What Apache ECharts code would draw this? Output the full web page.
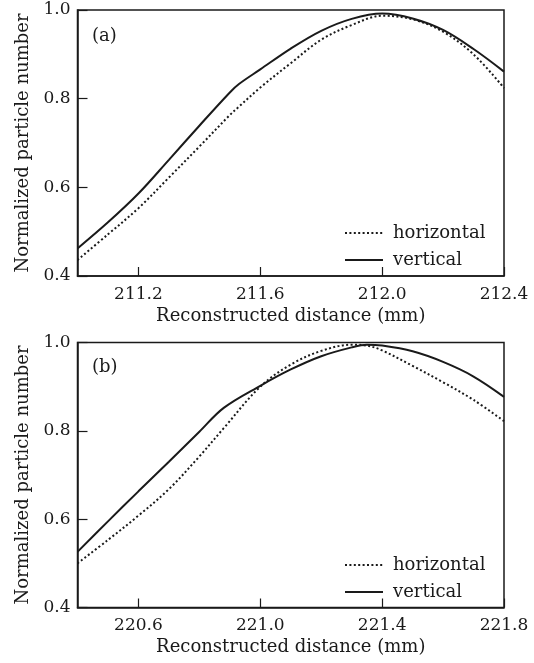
<!DOCTYPE html>
<html>
<head>
<meta charset="utf-8">
<script src="https://cdn.jsdelivr.net/npm/echarts@6/dist/echarts.min.js"></script>
<style>html,body{margin:0;padding:0;background:#fff;}#c{width:534px;height:663px;}</style>
</head>
<body>
<div id="c"></div>
<script>
// Panel (a)
const xA = [211.0, 211.1, 211.2, 211.3, 211.4, 211.5, 211.53, 211.6, 211.7, 211.8, 211.9, 212.0, 212.1, 212.2, 212.3, 212.4];
const horizontalA = [0.436, 0.494, 0.553, 0.622, 0.692, 0.763, 0.782, 0.825, 0.880, 0.933, 0.966, 0.987, 0.979, 0.951, 0.900, 0.824];
const verticalA   = [0.462, 0.521, 0.586, 0.662, 0.739, 0.814, 0.833, 0.866, 0.913, 0.953, 0.980, 0.992, 0.981, 0.955, 0.912, 0.861];
// Panel (b)
const xB = [220.4, 220.5, 220.6, 220.7, 220.8, 220.88, 221.0, 221.1, 221.2, 221.3, 221.35, 221.4, 221.5, 221.6, 221.7, 221.8];
const horizontalB = [0.500, 0.553, 0.608, 0.668, 0.742, 0.806, 0.900, 0.950, 0.981, 0.995, 0.993, 0.982, 0.947, 0.910, 0.870, 0.822];
const verticalB   = [0.526, 0.595, 0.663, 0.730, 0.798, 0.852, 0.902, 0.939, 0.969, 0.989, 0.995, 0.993, 0.980, 0.956, 0.923, 0.877];
// Ticks
const xTicksA = [211.2, 211.6, 212.0, 212.4];
const xTicksB = [220.6, 221.0, 221.4, 221.8];
const yTicks = [0.4, 0.6, 0.8, 1.0];
const seriesNames = ['horizontal', 'vertical'];
const panelLabels = ['(a)', '(b)'];
const xTitle = 'Reconstructed distance (mm)';
const yTitle = 'Normalized particle number';

const FONT = 'DejaVu Serif';
const INK = '#1a1a1a';
const pair = (xs, ys) => xs.map((x, i) => [x, ys[i]]);

function xAxisFor(idx, min, max, ticks) {
  return {
    type: 'value', gridIndex: idx, min: min, max: max,
    name: xTitle, nameLocation: 'middle', nameGap: 31,
    nameTextStyle: {fontFamily: FONT, fontSize: 18, color: INK},
    axisLine: {show: true, lineStyle: {color: INK, width: 1.5}},
    axisTick: {show: true, inside: true, length: 9, customValues: ticks, lineStyle: {color: INK, width: 1.2}},
    axisLabel: {customValues: ticks, fontFamily: FONT, fontSize: 17, color: INK, margin: 10,
      formatter: v => Number(v).toFixed(1)},
    splitLine: {show: false}
  };
}
function yAxisFor(idx) {
  return {
    type: 'value', gridIndex: idx, min: 0.4, max: 1.0,
    name: yTitle, nameLocation: 'middle', nameGap: 43, nameRotate: 90,
    nameTextStyle: {fontFamily: FONT, fontSize: 18, color: INK},
    axisLine: {show: true, lineStyle: {color: INK, width: 1.5}},
    axisTick: {show: true, inside: true, length: 10, customValues: yTicks, lineStyle: {color: INK, width: 1.2}},
    axisLabel: {customValues: yTicks, fontFamily: FONT, fontSize: 17, color: INK, margin: 7,
      formatter: v => Number(v).toFixed(1)},
    splitLine: {show: false}
  };
}
function lineSeries(name, idx, data, dotted) {
  return {
    name: name, type: 'line', xAxisIndex: idx, yAxisIndex: idx,
    data: data, smooth: 0.35, symbol: 'none', showSymbol: false,
    lineStyle: dotted ? {color: INK, width: 2, type: [2, 2.4]} : {color: INK, width: 2, type: 'solid'},
    itemStyle: {color: INK}
  };
}
function legendFor(top) {
  return {
    show: true, padding: 0,
    data: seriesNames, orient: 'vertical', left: 344, top: top,
    itemWidth: 38, itemHeight: 14, itemGap: 9, selectedMode: false,
    itemStyle: {opacity: 0},
    textStyle: {fontFamily: FONT, fontSize: 18, color: INK, padding: [0, 0, 0, 5]}
  };
}

const chart = echarts.init(document.getElementById('c'), null, {renderer: 'canvas'});
chart.setOption({
  backgroundColor: '#fff',
  animation: false,
  title: [
    {text: panelLabels[0], left: 92, top: 27, textStyle: {fontFamily: FONT, fontSize: 18, fontWeight: 'normal', color: INK}, padding: 0},
    {text: panelLabels[1], left: 92, top: 358, textStyle: {fontFamily: FONT, fontSize: 18, fontWeight: 'normal', color: INK}, padding: 0}
  ],
  grid: [
    {left: 77.5, right: 30, top: 10, height: 266, show: true, borderColor: INK, borderWidth: 1.5, backgroundColor: 'transparent'},
    {left: 77.5, right: 30, top: 342.5, height: 265, show: true, borderColor: INK, borderWidth: 1.5, backgroundColor: 'transparent'}
  ],
  legend: [legendFor(224), legendFor(556)],
  xAxis: [xAxisFor(0, 211.0, 212.4, xTicksA), xAxisFor(1, 220.4, 221.8, xTicksB)],
  yAxis: [yAxisFor(0), yAxisFor(1)],
  series: [
    lineSeries(seriesNames[0], 0, pair(xA, horizontalA), true),
    lineSeries(seriesNames[1], 0, pair(xA, verticalA), false),
    lineSeries(seriesNames[0], 1, pair(xB, horizontalB), true),
    lineSeries(seriesNames[1], 1, pair(xB, verticalB), false)
  ]
});
</script>
</body>
</html>
